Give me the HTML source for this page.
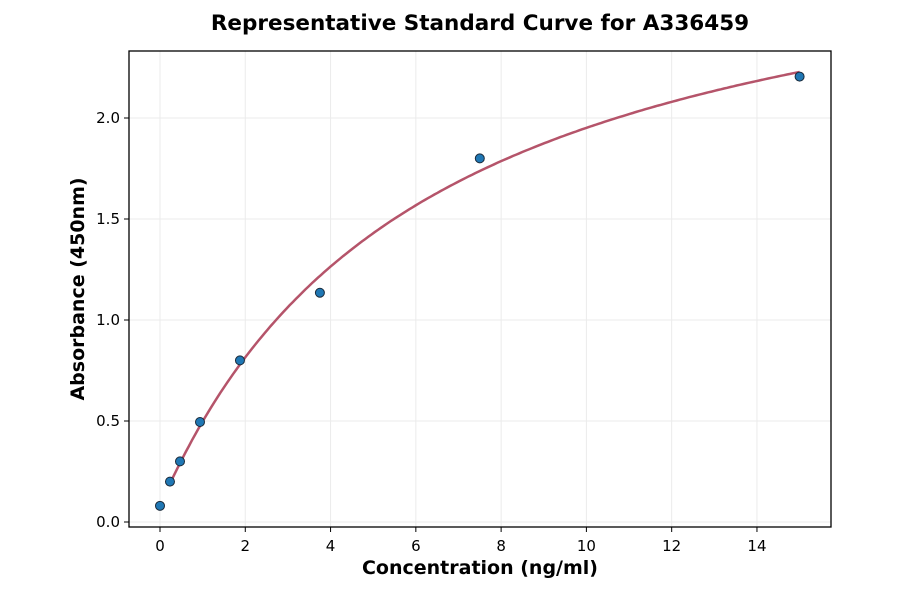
<!DOCTYPE html>
<html><head><meta charset="utf-8"><style>
body{margin:0;background:#fff;}
svg{display:block;font-family:"DejaVu Sans","Liberation Sans",sans-serif;}
</style></head><body>
<svg id="c" width="900" height="594">
<text x="480" y="30" text-anchor="middle" font-size="21.5" font-weight="bold">Representative Standard Curve for A336459</text>
<g id="grid"></g>
<g id="xt"></g>
<g id="yt"></g>
<path id="curve" fill="none" stroke="#b5546a" stroke-width="2.5"/>
<g id="pts"></g>
<rect x="129" y="51" width="702" height="476" fill="none" stroke="#000" stroke-width="1.3"/>
<text x="480" y="574" text-anchor="middle" font-size="19" font-weight="bold">Concentration (ng/ml)</text>
<text transform="translate(84,289) rotate(-90)" text-anchor="middle" font-size="19" font-weight="bold">Absorbance (450nm)</text>
</svg>
<script>
const xs=[0,0.234,0.469,0.938,1.875,3.75,7.5,15];
const ys=[0.08,0.2,0.3,0.495,0.8,1.135,1.8,2.205];
const xTicks=[0,2,4,6,8,10,12,14];
const yTicks=[0,0.5,1.0,1.5,2.0];
const fitA=[0.08], fitV=[3.05], fitK=[6.3];
const X=v=>160+v*42.64, Y=v=>522-v*202;
const NS="http://www.w3.org/2000/svg";
function mk(t,a,p){const e=document.createElementNS(NS,t);for(const k in a)e.setAttribute(k,a[k]);p.appendChild(e);return e;}
const g=document.getElementById('grid'),xt=document.getElementById('xt'),yt=document.getElementById('yt');
xTicks.forEach(v=>{const x=X(v);
 const l=mk('line',{x1:x,x2:x,y1:51,y2:527,stroke:'#ebebeb','stroke-width':1},g);
 
 const t=mk('line',{x1:x,x2:x,y1:527,y2:532,stroke:'#000'},xt);
 
 const s=mk('text',{x:x,y:551,'text-anchor':'middle','font-size':15},xt);s.textContent=v;
 });
yTicks.forEach(v=>{const y=Y(v);
 const l=mk('line',{x1:129,x2:831,y1:y,y2:y,stroke:'#ebebeb','stroke-width':1},g);
 
 const t=mk('line',{x1:124,x2:129,y1:y,y2:y,stroke:'#000'},yt);
 
 const s=mk('text',{x:120,y:y+5,'text-anchor':'end','font-size':15},yt);s.textContent=v.toFixed(1);
 });
let d='';const x0=xs[1],x1=xs[xs.length-1];
for(let i=0;i<=200;i++){const x=x0+(x1-x0)*i/200;const y=fitA[0]+fitV[0]*x/(fitK[0]+x);d+=(i?'L':'M')+X(x).toFixed(1)+','+Y(y).toFixed(1);}
document.getElementById('curve').setAttribute('d',d);
const p=document.getElementById('pts');
xs.forEach((v,i)=>{const c=mk('circle',{cx:X(v),cy:Y(ys[i]),r:4.5,fill:'#1f77b4',stroke:'#1a2a3a','stroke-width':1},p);
 });
</script>
</body></html>
